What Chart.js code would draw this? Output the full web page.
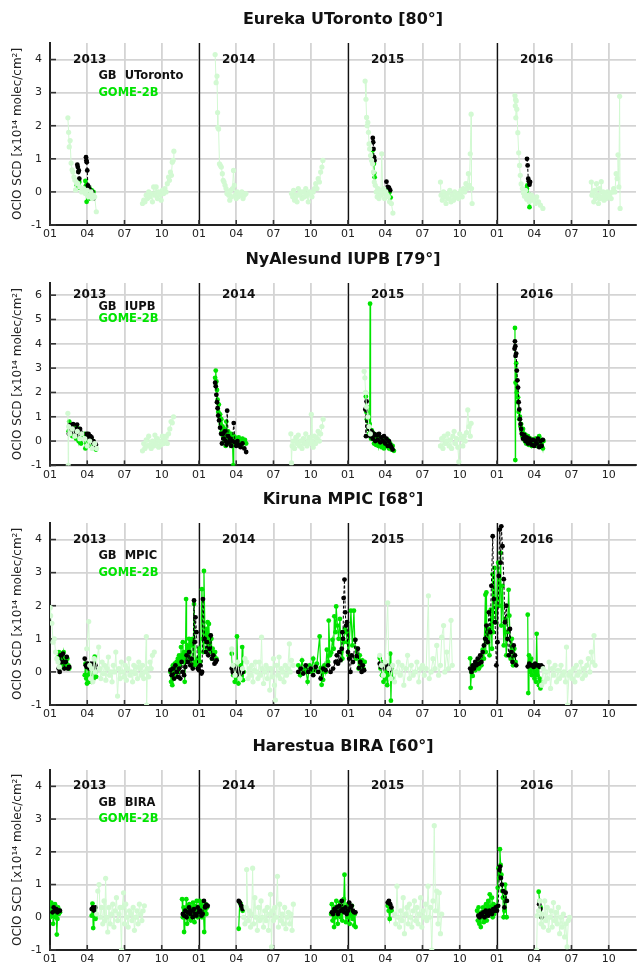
<!DOCTYPE html>
<html>
<head>
<meta charset="utf-8">
<script src="https://cdn.jsdelivr.net/npm/chart.js@4/dist/chart.umd.min.js"></script>
<style>
  body { margin: 0; background: #fff; }
  canvas { display: block; }
</style>
</head>
<body>
<canvas id="eureka" width="640" height="240"></canvas>
<canvas id="nyalesund" width="640" height="240"></canvas>
<canvas id="kiruna" width="640" height="247"></canvas>
<canvas id="harestua" width="640" height="240"></canvas>
<script>
// x values are months since 2013-01-01, y values are OClO SCD in 1e14 molec/cm2
// null splits a series into separate campaigns
const monthTicks = [0, 3, 6, 9, 12, 15, 18, 21, 24, 27, 30, 33, 36, 39, 42, 45];
const monthNames = ['01', '04', '07', '10'];
const yearStarts = [0, 12, 24, 36];
const yearNames = ['2013', '2014', '2015', '2016'];

// ---- Eureka UToronto ----
const eurekaAll = [
  [1.44,2.24],[1.5,1.8],[1.55,1.36],[1.62,1.55],[1.7,0.87],[1.78,0.67],[1.85,0.6],[1.93,0.45],[2.0,0.36],[2.06,0.06],[2.12,0.3],[2.25,0.25],[2.4,0.15],[2.55,0.0],[2.7,0.1],[2.85,-0.05],[3.0,0.05],[3.1,-0.15],[3.2,-0.1],[3.3,0.0],[3.4,-0.2],[3.5,-0.1],[3.6,-0.15],[3.73,-0.6],null,
  [7.45,-0.35],[7.55,-0.25],[7.65,-0.3],[7.75,-0.1],[7.85,-0.2],[7.95,0.0],[8.05,-0.15],[8.15,-0.05],[8.25,-0.3],[8.35,0.15],[8.45,-0.1],[8.55,0.15],[8.65,-0.2],[8.75,0.0],[8.85,-0.1],[8.95,-0.25],[9.05,0.05],[9.15,-0.05],[9.25,0.1],[9.35,0.0],[9.45,0.25],[9.55,0.45],[9.62,0.35],[9.7,0.6],[9.78,0.5],[9.85,0.9],[9.92,0.95],[9.98,1.23],null,
  [13.3,4.15],[13.38,3.3],[13.45,3.5],[13.5,2.4],[13.52,1.95],[13.58,1.9],[13.65,0.85],[13.72,0.8],[13.8,0.75],[13.88,0.55],[13.95,0.35],[14.02,0.3],[14.1,0.2],[14.18,0.1],[14.25,-0.05],[14.32,0.0],[14.4,-0.1],[14.48,-0.25],[14.55,0.05],[14.62,-0.15],[14.7,0.1],[14.78,0.65],[14.85,0.2],[14.92,-0.1],[15.0,-0.2],[15.08,0.0],[15.16,-0.15],[15.25,-0.05],[15.35,-0.1],[15.45,0.0],[15.55,-0.2],[15.65,-0.1],[15.78,-0.05],null,
  [19.45,-0.05],[19.55,-0.15],[19.62,0.05],[19.7,-0.25],[19.8,-0.1],[19.9,-0.3],[20.0,0.1],[20.1,-0.1],[20.2,0.0],[20.3,-0.2],[20.4,0.0],[20.5,-0.15],[20.6,0.1],[20.7,-0.1],[20.8,-0.3],[20.9,0.0],[21.0,-0.05],[21.1,-0.15],[21.2,0.0],[21.3,0.1],[21.4,0.25],[21.5,0.1],[21.6,0.4],[21.7,0.3],[21.8,0.6],[21.9,0.75],[21.98,0.95],null,
  [25.38,3.35],[25.45,2.8],[25.5,2.25],[25.55,2.0],[25.6,2.1],[25.65,1.8],[25.7,1.45],[25.75,1.3],[25.82,1.1],[25.9,0.95],[25.98,0.85],[26.05,0.6],[26.12,0.3],[26.2,0.2],[26.28,0.0],[26.35,-0.15],[26.42,0.1],[26.5,-0.2],[26.58,0.05],[26.65,-0.1],[26.72,1.15],[26.8,-0.05],[26.88,0.1],[26.95,-0.2],[27.05,0.0],[27.15,-0.1],[27.25,-0.15],[27.35,-0.3],[27.5,-0.35],[27.62,-0.64],null,
  [31.45,0.3],[31.5,-0.1],[31.6,-0.25],[31.7,0.0],[31.8,-0.15],[31.9,-0.35],[32.0,-0.05],[32.1,-0.2],[32.2,0.05],[32.3,-0.3],[32.4,-0.1],[32.5,-0.25],[32.6,0.0],[32.7,-0.15],[32.8,-0.05],[32.9,-0.2],[33.0,-0.1],[33.1,0.05],[33.2,-0.15],[33.3,0.1],[33.4,0.0],[33.5,0.25],[33.6,0.1],[33.7,0.55],[33.78,0.2],[33.85,1.15],[33.92,2.35],[33.95,0.1],[34.0,-0.35],null,
  [37.45,2.91],[37.5,2.79],[37.48,2.6],[37.55,2.75],[37.52,2.24],[37.6,2.5],[37.68,1.79],[37.75,1.18],[37.82,0.8],[37.88,0.5],[37.95,0.24],[38.05,0.1],[38.13,-0.03],[38.22,-0.13],[38.3,0.05],[38.4,-0.22],[38.5,-0.1],[38.6,-0.3],[38.7,-0.2],[38.8,-0.1],[38.9,-0.25],[39.0,-0.2],[39.1,-0.35],[39.2,-0.15],[39.35,-0.3],[39.5,-0.4],[39.7,-0.5],null,
  [43.6,0.3],[43.65,-0.1],[43.72,0.0],[43.8,-0.3],[43.88,0.05],[43.95,-0.2],[44.02,0.25],[44.1,-0.1],[44.18,-0.35],[44.25,0.1],[44.32,-0.2],[44.4,0.31],[44.48,-0.15],[44.55,0.0],[44.62,-0.25],[44.7,-0.1],[44.8,-0.2],[44.9,0.0],[45.0,-0.15],[45.1,-0.05],[45.2,-0.2],[45.3,0.0],[45.4,0.1],[45.5,0.0],[45.6,0.55],[45.68,0.4],[45.75,1.12],[45.82,0.15],[45.88,2.89],[45.92,-0.5]
];
const eurekaGome = [
  [2.16,0.2],[2.2,0.25],[2.25,0.12],[2.3,0.22],[2.36,0.3],null,
  [2.85,0.33],[2.9,0.2],[2.95,-0.3],[3.0,0.1],[3.05,0.15],[3.1,-0.1],[3.15,0.0],[3.2,-0.2],[3.25,0.05],[3.3,-0.15],[3.35,0.05],[3.4,-0.1],[3.45,-0.2],[3.5,0.0],null,
  [26.0,1.26],[26.03,1.05],[26.06,0.97],[26.09,0.85],[26.12,0.57],[26.15,0.44],null,
  [27.12,-0.03],[27.2,0.1],[27.28,-0.15],[27.36,0.0],[27.44,-0.17],null,
  [38.4,0.11],[38.45,0.2],[38.5,-0.22],[38.55,-0.2],[38.62,-0.46],[38.68,-0.1]
];
const eurekaGb = [
  [2.2,0.82],[2.24,0.75],[2.28,0.6],[2.32,0.65],[2.36,0.4],null,
  [2.9,1.05],[2.93,0.95],[2.96,0.9],[3.0,0.65],[3.05,0.2],[3.1,0.15],[3.15,0.1],[3.2,0.05],[3.3,-0.1],[3.4,0.0],[3.5,-0.2],null,
  [26.0,1.63],[26.03,1.5],[26.06,1.3],[26.1,1.05],[26.14,0.95],null,
  [27.1,0.31],[27.2,0.15],[27.3,0.13],[27.4,0.05],null,
  [38.42,1.0],[38.47,0.8],[38.52,0.4],[38.57,0.32],[38.62,0.22],[38.67,0.3]
];

// ---- NyAlesund IUPB ----
const nyAll = [
  [1.44,1.14],[1.47,-1.0],[1.5,0.6],[1.6,0.3],[1.8,0.5],[2.0,0.2],[2.2,0.4],[2.4,0.1],[2.55,0.3],null,
  [2.8,0.1],[3.0,-0.2],[3.2,0.0],[3.4,-0.3],[3.6,-0.1],[3.76,-0.3],null,
  [7.45,-0.4],[7.55,-0.1],[7.65,-0.3],[7.75,0.05],[7.85,-0.2],[7.95,0.2],[8.05,-0.15],[8.15,-0.3],[8.25,0.0],[8.35,-0.2],[8.45,0.25],[8.55,-0.1],[8.65,0.1],[8.75,-0.25],[8.85,0.0],[8.95,-0.15],[9.05,0.2],[9.15,-0.1],[9.25,0.05],[9.35,0.2],[9.45,-0.1],[9.55,0.3],[9.65,0.5],[9.75,0.8],[9.85,0.75],[9.95,1.0],null,
  [19.4,0.3],[19.45,-0.9],[19.5,-0.2],[19.6,0.0],[19.7,-0.3],[19.8,0.15],[19.9,-0.1],[20.0,0.25],[20.1,-0.2],[20.2,0.0],[20.3,-0.3],[20.4,0.1],[20.5,-0.1],[20.6,0.3],[20.7,-0.2],[20.8,0.0],[20.9,0.15],[21.0,-0.1],[21.05,1.1],[21.1,0.0],[21.2,-0.25],[21.3,0.2],[21.4,-0.1],[21.5,0.1],[21.6,0.4],[21.7,0.0],[21.8,0.3],[21.9,0.6],[22.0,0.9],null,
  [25.3,2.87],[25.36,2.6],[25.42,2.0],[25.5,1.4],[25.6,1.0],[25.7,0.6],[25.8,0.3],null,
  [31.45,-0.2],[31.55,0.1],[31.65,-0.3],[31.75,0.2],[31.85,-0.1],[31.95,0.0],[32.05,0.3],[32.15,-0.2],[32.25,0.05],[32.35,-0.3],[32.45,0.2],[32.55,0.4],[32.65,-0.1],[32.75,0.1],[32.85,-0.25],[32.93,-0.85],[33.0,0.3],[33.15,0.1],[33.25,-0.2],[33.35,0.2],[33.45,0.0],[33.55,0.35],[33.65,1.28],[33.75,0.6],[33.85,0.2],[33.92,0.73]
];
const nyGome = [
  [1.5,0.4],[1.55,0.8],[1.6,0.5],[1.65,0.3],[1.7,0.65],[1.75,0.4],[1.8,0.2],[1.85,0.5],[1.9,0.3],[1.95,0.6],[2.0,0.2],[2.05,0.45],[2.1,0.1],[2.15,0.35],[2.2,0.55],[2.25,0.2],[2.3,0.0],[2.35,0.3],[2.4,-0.05],[2.45,0.2],[2.5,-0.1],null,
  [2.8,0.3],[2.85,-0.3],[2.9,0.1],[2.95,-0.1],[3.0,0.2],[3.05,0.0],[3.1,0.15],[3.15,-0.15],[3.2,0.05],[3.25,-0.2],[3.3,0.1],[3.35,-0.1],[3.4,0.0],[3.45,-0.25],[3.5,-0.05],[3.55,-0.3],[3.6,-0.15],[3.7,-0.35],null,
  [13.3,2.6],[13.35,2.9],[13.4,2.45],[13.45,2.1],[13.5,1.7],[13.55,1.2],[13.6,1.5],[13.65,1.0],[13.7,1.1],[13.75,0.7],[13.8,0.9],[13.85,0.4],[13.9,0.6],[13.95,0.2],[14.0,0.5],[14.05,0.0],[14.1,0.35],[14.15,-0.2],[14.2,0.8],[14.25,0.2],[14.3,0.0],[14.35,0.4],[14.4,0.1],[14.45,-0.1],[14.5,0.2],[14.55,0.0],[14.6,0.3],[14.65,-0.2],[14.7,-0.05],[14.75,-1.0],[14.8,0.2],[14.85,0.0],[14.9,0.15],[14.95,-0.15],[15.0,0.1],[15.1,-0.1],[15.2,0.15],[15.3,0.0],[15.4,-0.2],[15.5,0.1],[15.6,-0.05],[15.7,0.05],[15.8,-0.1],null,
  [25.44,1.83],[25.48,1.2],[25.52,0.9],[25.56,1.4],[25.6,0.8],[25.65,0.5],[25.7,0.3],[25.75,0.7],[25.78,5.65],[25.82,0.4],[25.86,0.1],[25.9,0.45],[25.95,0.2],[26.0,0.35],[26.05,0.1],[26.1,-0.1],[26.15,0.2],[26.2,0.05],[26.25,-0.15],[26.3,0.25],[26.35,-0.05],[26.4,0.1],[26.45,-0.2],[26.5,0.0],[26.55,0.15],[26.6,-0.1],[26.65,0.05],[26.7,-0.25],[26.75,0.0],[26.8,-0.15],[26.85,0.1],[26.9,-0.3],[26.95,-0.1],[27.0,0.0],[27.1,-0.2],[27.2,0.05],[27.3,-0.3],[27.4,-0.1],[27.5,-0.35],[27.6,-0.2],[27.7,-0.4],null,
  [37.45,4.65],[37.48,-0.78],[37.5,2.4],[37.55,3.2],[37.6,2.0],[37.65,1.6],[37.7,1.8],[37.75,1.2],[37.8,0.9],[37.85,1.0],[37.9,0.6],[37.95,0.7],[38.0,0.4],[38.05,0.2],[38.1,0.5],[38.15,0.1],[38.2,0.3],[38.25,0.0],[38.3,0.25],[38.35,-0.1],[38.4,0.15],[38.45,0.0],[38.5,0.2],[38.55,-0.15],[38.6,0.05],[38.7,0.1],[38.8,-0.2],[38.9,0.05],[39.0,-0.1],[39.1,0.1],[39.2,-0.2],[39.3,0.0],[39.4,0.2],[39.5,-0.1],[39.6,0.05],[39.7,-0.3],[39.75,0.0]
];
const nyGb = [
  [1.52,0.3],[1.58,0.65],[1.64,0.5],[1.7,0.55],[1.78,0.4],[1.86,0.7],[1.94,0.35],[2.02,0.5],[2.1,0.25],[2.18,0.68],[2.26,0.4],[2.34,0.3],[2.42,0.5],[2.5,0.35],null,
  [2.95,0.3],[3.0,0.25],[3.05,0.2],[3.1,0.3],[3.15,0.15],[3.2,0.1],[3.25,0.2],[3.3,0.05],[3.35,0.15],[3.4,-0.05],[3.5,0.0],[3.6,-0.2],[3.7,-0.15],null,
  [13.3,2.4],[13.35,2.25],[13.4,1.9],[13.45,1.6],[13.5,1.35],[13.55,1.05],[13.62,0.85],[13.7,0.55],[13.78,0.3],[13.85,-0.1],[13.92,0.3],[14.0,0.1],[14.08,0.4],[14.15,0.0],[14.22,-0.15],[14.27,1.25],[14.35,0.2],[14.42,-0.05],[14.5,0.1],[14.6,-0.2],[14.7,0.0],[14.8,0.74],[14.9,-0.05],[15.0,-0.2],[15.1,0.0],[15.2,-0.15],[15.35,-0.25],[15.5,-0.1],[15.65,-0.3],[15.8,-0.45],null,
  [25.4,1.3],[25.45,0.2],[25.5,1.63],[25.55,1.0],[25.6,0.6],[25.7,0.5],[25.8,0.2],[25.9,0.4],[26.0,0.1],[26.1,0.3],[26.2,0.0],[26.3,0.25],[26.4,0.05],[26.5,0.3],[26.6,-0.05],[26.7,0.15],[26.8,0.0],[26.9,0.2],[27.0,-0.1],[27.1,0.1],[27.2,-0.2],[27.3,0.0],[27.4,-0.15],[27.5,-0.25],[27.6,-0.35],null,
  [37.42,3.8],[37.45,4.1],[37.48,3.9],[37.5,3.5],[37.55,3.6],[37.6,2.9],[37.65,2.5],[37.7,2.2],[37.75,1.6],[37.8,1.3],[37.85,0.9],[37.9,0.7],[37.95,0.5],[38.0,0.3],[38.1,0.1],[38.2,0.25],[38.3,0.0],[38.4,0.15],[38.5,-0.1],[38.6,0.1],[38.7,0.0],[38.8,-0.15],[38.9,0.05],[39.0,-0.2],[39.1,0.0],[39.2,-0.1],[39.3,0.1],[39.4,-0.25],[39.5,0.0],[39.6,-0.2],[39.7,0.05]
];

// ---- Kiruna MPIC ----
const kirunaAll = [
  [0.02,1.94],[0.05,1.7],[0.15,1.47],[0.25,0.9],[0.35,1.0],[0.45,0.6],[0.55,0.4],[0.65,0.3],[0.75,0.15],null,
  [2.96,0.7],[3.12,1.52],[3.2,0.2],[3.28,-0.2],[3.36,0.1],[3.45,-0.3],[3.55,0.4],[3.65,0.0],[3.92,0.75],[4.0,0.1],[4.1,-0.2],[4.2,0.3],[4.3,-0.05],[4.4,0.2],[4.5,-0.25],[4.6,0.1],[4.7,0.45],[4.8,-0.1],[4.9,0.0],[5.0,-0.3],[5.1,0.2],[5.2,0.0],[5.3,0.6],[5.44,-0.73],[5.55,0.1],[5.65,-0.2],[5.75,0.3],[5.85,0.0],[5.95,-0.15],[6.05,0.2],[6.15,-0.25],[6.25,0.1],[6.35,0.4],[6.45,-0.1],[6.55,0.0],[6.65,-0.3],[6.75,0.2],[6.85,-0.05],[6.95,0.15],[7.05,-0.2],[7.15,0.3],[7.25,0.1],[7.35,-0.1],[7.45,0.2],[7.55,-0.2],[7.65,0.0],[7.76,1.07],[7.78,-1.0],[7.85,0.1],[7.95,-0.15],[8.05,0.3],[8.15,0.1],[8.25,0.5],[8.4,0.6],null,
  [14.64,0.7],[14.75,0.2],[14.9,-0.1],[15.1,0.3],[15.3,-0.2],[15.5,0.1],[15.7,0.4],[15.85,0.3],[15.95,-0.2],[16.05,0.1],[16.15,-0.1],[16.25,0.2],[16.35,-0.3],[16.45,0.05],[16.55,0.3],[16.65,0.0],[16.75,-0.2],[16.85,0.3],[16.95,-0.1],[17.04,1.05],[17.1,0.1],[17.2,-0.35],[17.3,0.0],[17.4,0.2],[17.5,-0.2],[17.6,0.1],[17.7,-0.55],[17.8,0.1],[17.9,-0.15],[18.0,0.4],[18.08,-0.4],[18.16,-0.85],[18.25,0.2],[18.35,-0.1],[18.45,0.45],[18.55,-0.2],[18.65,0.1],[18.75,0.0],[18.85,-0.3],[18.95,0.2],[19.05,-0.1],[19.15,0.1],[19.28,0.85],[19.35,0.0],[19.45,0.35],[19.6,0.2],null,
  [26.56,0.5],[26.7,0.2],[26.85,-0.1],[27.0,0.3],[27.2,2.09],[27.3,0.1],[27.45,-0.2],[27.6,0.2],[27.75,-0.3],[27.9,0.0],[28.05,0.3],[28.2,-0.1],[28.35,0.2],[28.5,-0.4],[28.65,0.1],[28.8,0.5],[28.95,-0.2],[29.1,0.2],[29.25,-0.1],[29.4,0.0],[29.55,0.3],[29.7,-0.3],[29.85,0.1],[30.0,0.2],[30.15,-0.1],[30.3,0.1],[30.48,2.3],[30.55,-0.2],[30.7,0.0],[30.85,0.4],[31.0,0.1],[31.15,0.8],[31.3,-0.1],[31.45,0.2],[31.55,1.05],[31.7,1.4],[31.8,0.0],[31.95,0.6],[32.1,0.1],[32.3,1.56],[32.4,0.2],null,
  [39.6,-0.4],[39.72,0.1],[39.84,-0.3],[39.96,0.0],[40.08,-0.2],[40.2,0.3],[40.32,-0.5],[40.44,0.1],[40.56,-0.1],[40.68,0.2],[40.8,-0.3],[40.92,0.05],[41.04,-0.2],[41.16,0.2],[41.28,-0.1],[41.4,0.0],[41.52,-0.3],[41.6,0.75],[41.68,-1.0],[41.8,-0.1],[41.92,0.0],[42.04,-0.2],[42.16,0.1],[42.28,-0.3],[42.4,0.2],[42.52,-0.1],[42.64,0.0],[42.76,0.3],[42.88,-0.2],[43.0,0.1],[43.12,-0.1],[43.24,0.2],[43.36,0.4],[43.48,0.0],[43.6,0.6],[43.7,0.3],[43.82,1.1],[43.9,0.2]
];
const kirunaGome = [
  [0.65,0.45],[0.72,0.6],[0.8,0.3],[0.88,0.55],[0.95,0.2],[1.02,0.4],[1.1,0.6],[1.18,0.25],[1.25,0.35],[1.32,0.15],[1.4,0.4],[1.48,0.2],[1.55,0.1],null,
  [2.8,-0.1],[2.86,0.25],[2.92,-0.2],[2.98,-0.35],[3.04,-0.1],[3.1,0.1],[3.16,-0.3],[3.22,-0.15],[3.28,0.0],[3.34,-0.25],[3.4,-0.1],[3.46,0.2],[3.52,-0.2],[3.6,0.46],[3.66,0.0],[3.72,-0.15],null,
  [9.7,0.0],[9.75,-0.3],[9.8,0.1],[9.85,-0.4],[9.9,0.2],[9.95,0.0],[10.0,-0.2],[10.05,0.25],[10.1,0.05],[10.15,-0.1],[10.2,0.3],[10.25,0.1],[10.3,0.4],[10.35,0.0],[10.4,0.5],[10.45,0.2],[10.5,0.35],[10.55,0.75],[10.6,0.4],[10.65,0.5],[10.7,0.9],[10.75,0.3],[10.8,0.6],[10.85,-0.3],[10.9,0.3],[10.96,2.2],[11.0,0.5],[11.05,0.8],[11.1,0.7],[11.15,0.4],[11.2,1.0],[11.25,0.6],[11.3,0.3],[11.35,0.9],[11.45,0.8],[11.5,1.0],[11.55,0.2],[11.6,2.05],[11.7,0.3],[11.8,0.2],[11.9,0.4],[12.0,0.7],[12.1,0.3],[12.24,2.5],[12.3,1.0],[12.35,0.6],[12.4,3.05],[12.48,1.2],[12.55,0.9],[12.6,1.3],[12.65,0.7],[12.7,1.5],[12.75,1.0],[12.8,1.45],[12.85,0.8],[12.9,1.1],[12.95,0.6],[13.0,1.0],[13.05,0.4],[13.1,0.7],[13.2,0.5],[13.3,0.6],[13.4,0.4],null,
  [14.64,0.55],[14.7,0.1],[14.76,-0.1],[14.82,0.2],[14.88,-0.3],[14.94,0.0],[15.0,-0.2],[15.06,1.07],[15.12,0.1],[15.18,-0.35],[15.24,0.0],[15.3,-0.15],[15.36,0.2],[15.42,-0.1],[15.48,0.75],[15.54,-0.25],[15.6,0.0],null,
  [20.0,0.2],[20.15,-0.1],[20.3,0.35],[20.45,0.0],[20.6,0.1],[20.75,-0.3],[20.9,0.2],[21.05,0.0],[21.2,0.4],[21.35,0.05],[21.5,0.25],[21.72,1.07],[21.8,0.12],[21.88,-0.39],[21.95,0.1],[22.0,-0.24],[22.1,0.2],[22.2,0.0],[22.3,0.67],[22.4,0.3],[22.45,1.55],[22.55,0.5],[22.65,0.58],[22.75,0.97],[22.85,0.7],[22.9,1.68],[23.0,1.2],[23.05,1.98],[23.15,1.4],[23.25,1.0],[23.35,1.6],[23.45,0.6],[23.55,0.4],[23.65,0.9],[23.75,1.3],[23.85,1.2],[23.95,0.9],[24.05,0.5],[24.24,1.85],[24.35,0.8],[24.48,1.85],[24.55,0.97],[24.65,0.4],[24.75,0.7],[24.85,0.1],[24.95,0.5],[25.05,0.2],[25.15,0.35],[25.25,0.1],[25.35,0.3],null,
  [26.56,0.42],[26.62,0.1],[26.68,0.3],[26.74,-0.1],[26.8,0.2],[26.86,-0.3],[26.92,0.05],[26.98,0.25],[27.04,-0.2],[27.1,0.1],[27.16,-0.4],[27.22,0.0],[27.28,0.2],[27.34,-0.1],[27.4,0.55],[27.46,-0.87],[27.52,0.1],[27.6,-0.2],null,
  [33.84,0.41],[33.88,-0.48],[33.95,0.0],[34.05,-0.12],[34.15,0.2],[34.25,0.05],[34.35,0.18],[34.45,0.3],[34.55,0.1],[34.65,0.35],[34.75,0.2],[34.85,0.67],[34.95,0.4],[35.07,2.33],[35.1,0.6],[35.15,2.4],[35.2,0.9],[35.3,1.3],[35.4,0.5],[35.5,1.88],[35.6,0.7],[35.65,2.95],[35.7,1.2],[35.8,3.14],[35.9,1.5],[36.0,2.2],[36.1,3.3],[36.2,2.0],[36.3,3.6],[36.35,1.4],[36.45,2.6],[36.55,0.8],[36.65,1.6],[36.75,0.5],[36.85,1.2],[36.94,2.48],[37.0,1.7],[37.1,0.4],[37.2,1.0],[37.3,0.2],[37.4,0.7],[37.5,0.3],null,
  [38.48,1.73],[38.52,-0.64],[38.58,0.5],[38.64,0.3],[38.7,0.0],[38.76,0.4],[38.82,-0.1],[38.88,0.2],[38.96,0.1],[39.02,-0.2],[39.08,0.0],[39.14,-0.3],[39.2,1.15],[39.26,-0.1],[39.32,0.2],[39.38,-0.4],[39.44,-0.2],[39.5,-0.5],[39.56,-0.3]
];
const kirunaGb = [
  [0.7,0.1],[0.78,0.0],[0.85,0.5],[0.95,0.3],[1.05,0.55],[1.15,0.1],[1.25,0.3],[1.35,0.45],[1.45,0.1],[1.55,0.15],null,
  [2.8,0.4],[2.88,0.2],[2.95,0.15],[3.02,0.25],[3.1,0.2],[3.18,0.1],[3.26,0.25],[3.34,0.15],[3.42,0.2],[3.5,0.25],[3.58,0.1],[3.66,0.2],null,
  [9.7,0.05],[9.8,-0.1],[9.9,0.1],[10.0,-0.2],[10.1,0.2],[10.2,0.0],[10.3,-0.15],[10.4,0.1],[10.5,-0.2],[10.6,0.3],[10.7,0.0],[10.8,-0.1],[10.9,0.15],[11.0,0.5],[11.1,0.3],[11.2,0.6],[11.3,0.2],[11.4,0.4],[11.5,0.1],[11.6,2.16],[11.65,0.9],[11.72,1.65],[11.8,1.2],[11.9,0.1],[12.0,0.05],[12.1,0.2],[12.2,-0.05],[12.25,0.0],[12.32,2.2],[12.45,1.0],[12.55,0.6],[12.65,0.9],[12.75,0.5],[12.85,0.7],[12.95,1.1],[13.05,0.4],[13.15,0.5],[13.25,0.25],[13.35,0.3],[13.42,0.35],null,
  [14.64,0.1],[14.72,0.0],[14.8,-0.05],[14.88,0.15],[14.96,0.05],[15.04,-0.1],[15.12,0.1],[15.2,0.0],[15.28,0.05],[15.36,-0.05],[15.44,0.1],[15.52,0.0],null,
  [20.0,0.0],[20.2,0.1],[20.4,-0.05],[20.6,0.2],[20.8,0.0],[21.0,0.1],[21.2,-0.1],[21.4,0.15],[21.6,0.0],[21.8,-0.2],[22.0,0.1],[22.2,0.05],[22.4,0.2],[22.6,0.0],[22.8,0.1],[23.0,0.3],[23.1,0.5],[23.2,0.25],[23.3,0.6],[23.4,0.35],[23.5,0.7],[23.55,1.2],[23.6,1.0],[23.65,2.23],[23.72,2.79],[23.78,1.8],[23.85,1.4],[23.92,1.5],[24.0,0.6],[24.1,0.4],[24.2,0.0],[24.3,0.5],[24.4,0.3],[24.6,0.97],[24.7,0.48],[24.8,0.7],[24.9,0.12],[25.0,0.3],[25.1,0.0],[25.2,0.2],[25.3,0.05],null,
  [26.56,0.25],[26.66,0.15],[26.76,0.2],[26.86,0.1],[26.96,0.25],[27.06,0.15],[27.16,0.2],[27.26,0.1],[27.36,0.05],[27.46,0.15],null,
  [33.84,0.1],[33.95,0.0],[34.05,0.2],[34.15,0.1],[34.25,0.3],[34.35,0.2],[34.45,0.4],[34.55,0.25],[34.65,0.5],[34.75,0.3],[34.85,0.6],[34.95,0.8],[35.05,1.0],[35.15,1.4],[35.25,0.9],[35.35,1.8],[35.45,1.2],[35.55,2.6],[35.66,4.1],[35.75,2.2],[35.85,1.5],[35.95,0.2],[36.05,0.9],[36.15,2.9],[36.22,4.3],[36.3,3.3],[36.35,4.4],[36.45,3.8],[36.55,2.8],[36.65,1.5],[36.75,2.0],[36.85,1.0],[36.95,0.5],[37.05,1.3],[37.15,0.6],[37.25,0.3],[37.35,0.8],[37.45,0.5],[37.55,0.2],null,
  [38.48,0.16],[38.6,0.25],[38.72,0.2],[38.84,0.2],[38.96,0.15],[39.08,0.25],[39.2,0.2],[39.32,0.2],[39.44,0.15],[39.56,0.2],[39.68,0.15]
];

// ---- Harestua BIRA ----
const harestuaAll = [
  [3.76,0.1],[3.85,0.8],[3.95,1.0],[4.05,0.0],[4.15,0.3],[4.25,-0.2],[4.35,0.5],[4.42,-0.1],[4.48,1.19],[4.55,0.0],[4.65,-0.45],[4.75,0.3],[4.85,-0.2],[4.95,0.1],[5.05,0.4],[5.15,-0.3],[5.25,0.2],[5.35,0.6],[5.45,-0.1],[5.55,0.1],[5.65,0.3],[5.76,-1.0],[5.82,0.3],[5.92,0.75],[6.0,-0.2],[6.1,0.4],[6.2,0.0],[6.3,-0.3],[6.4,0.2],[6.5,0.1],[6.6,-0.1],[6.7,0.3],[6.8,-0.4],[6.9,0.0],[7.0,0.2],[7.1,-0.2],[7.2,0.4],[7.3,0.1],[7.4,-0.1],[7.5,0.2],[7.6,0.35],null,
  [15.6,0.0],[15.7,-0.2],[15.8,0.3],[15.84,1.46],[15.95,-0.1],[16.05,0.2],[16.15,-0.3],[16.25,0.1],[16.32,1.5],[16.4,-0.2],[16.5,0.6],[16.6,0.0],[16.7,-0.4],[16.8,0.3],[16.9,-0.1],[17.0,0.5],[17.1,0.0],[17.2,-0.3],[17.3,0.2],[17.4,-0.1],[17.5,0.3],[17.6,-0.4],[17.7,0.1],[17.76,0.7],[17.84,-0.9],[17.92,0.2],[18.0,-0.1],[18.1,0.3],[18.2,0.0],[18.32,1.25],[18.4,-0.3],[18.5,0.4],[18.6,-0.1],[18.7,0.1],[18.8,-0.2],[18.9,0.3],[19.0,-0.35],[19.1,0.0],[19.2,0.15],[19.3,-0.2],[19.4,0.1],[19.5,-0.4],[19.6,0.4],null,
  [27.76,0.1],[27.85,-0.2],[27.95,0.95],[28.05,0.0],[28.15,-0.3],[28.25,0.2],[28.35,-0.1],[28.45,0.6],[28.55,-0.5],[28.65,0.1],[28.75,0.3],[28.85,-0.2],[28.95,0.4],[29.05,0.0],[29.15,-0.3],[29.25,0.2],[29.35,0.5],[29.45,-0.1],[29.55,0.3],[29.65,-0.2],[29.75,0.1],[29.85,0.6],[29.95,-0.3],[30.05,0.2],[30.15,0.0],[30.25,0.4],[30.35,-0.1],[30.45,0.95],[30.55,0.0],[30.65,0.3],[30.75,-1.0],[30.85,0.5],[30.95,2.8],[31.05,0.2],[31.15,0.8],[31.25,-0.2],[31.35,0.75],[31.45,-0.5],[31.55,0.1],null,
  [39.2,-1.0],[39.25,0.05],[39.35,0.2],[39.45,0.5],[39.55,-0.2],[39.65,0.1],[39.75,-0.3],[39.85,0.5],[39.95,-0.1],[40.05,0.3],[40.15,-0.4],[40.25,0.0],[40.35,0.2],[40.45,-0.3],[40.55,0.45],[40.65,-0.1],[40.75,0.15],[40.85,-0.2],[40.95,0.3],[41.05,-0.5],[41.15,0.0],[41.25,-0.3],[41.35,0.1],[41.45,-0.6],[41.55,-0.2],[41.65,-0.9],[41.75,-0.1],[41.84,0.0]
];
const harestuaGome = [
  [0.0,0.0],[0.05,0.2],[0.1,0.45],[0.15,0.1],[0.2,0.35],[0.25,-0.2],[0.3,0.3],[0.35,0.15],[0.4,0.4],[0.45,0.0],[0.5,0.25],[0.55,-0.53],[0.6,-0.05],[0.65,0.3],[0.7,0.1],[0.75,0.2],[0.8,0.15],null,
  [3.36,0.05],[3.42,0.42],[3.48,-0.33],[3.54,0.1],[3.6,0.2],[3.66,-0.05],[3.72,0.0],null,
  [10.64,0.55],[10.7,0.0],[10.76,0.3],[10.8,-0.45],[10.86,0.2],[10.92,0.1],[10.98,0.55],[11.04,-0.2],[11.1,0.35],[11.16,0.0],[11.22,0.4],[11.28,0.1],[11.34,-0.1],[11.4,0.3],[11.46,0.05],[11.52,0.45],[11.58,0.2],[11.64,-0.15],[11.7,0.35],[11.76,0.1],[11.82,0.5],[11.88,0.0],[11.94,0.3],[12.0,0.1],[12.06,0.5],[12.12,0.2],[12.18,0.4],[12.24,0.0],[12.3,0.3],[12.36,0.15],[12.42,-0.45],[12.48,0.2],[12.54,0.4],[12.6,0.1],[12.66,0.3],null,
  [15.2,-0.35],[15.28,0.45],[15.36,0.4],[15.44,0.3],[15.52,0.2],null,
  [22.64,0.1],[22.7,0.4],[22.76,-0.1],[22.82,0.2],[22.88,-0.3],[22.94,0.3],[23.0,0.0],[23.06,0.5],[23.12,0.15],[23.18,-0.2],[23.24,0.3],[23.3,0.1],[23.36,0.45],[23.42,0.0],[23.48,0.35],[23.54,-0.1],[23.6,0.2],[23.66,0.55],[23.72,1.3],[23.78,0.3],[23.84,-0.15],[23.9,0.2],[23.96,0.0],[24.02,0.4],[24.08,0.1],[24.14,-0.2],[24.2,0.3],[24.26,0.05],[24.32,0.35],[24.38,-0.05],[24.44,0.15],[24.5,-0.25],[24.56,0.1],[24.62,-0.3],null,
  [27.2,0.35],[27.28,0.2],[27.36,-0.05],[27.44,0.25],[27.52,0.2],null,
  [34.4,0.2],[34.46,-0.1],[34.52,0.3],[34.58,-0.2],[34.64,0.1],[34.7,-0.3],[34.76,0.15],[34.82,0.0],[34.88,0.3],[34.94,-0.15],[35.0,0.2],[35.06,0.0],[35.12,0.4],[35.18,-0.1],[35.24,0.3],[35.3,0.5],[35.36,0.1],[35.42,0.7],[35.48,0.3],[35.54,0.2],[35.6,0.6],[35.66,0.0],[35.72,0.4],[35.78,0.1],[35.84,0.25],[35.9,0.35],[36.0,0.3],[36.06,0.9],[36.12,1.5],[36.18,1.2],[36.24,2.08],[36.3,1.6],[36.36,1.3],[36.42,0.8],[36.48,0.6],[36.54,0.0],[36.6,0.2],[36.66,1.0],[36.72,0.5],[36.78,0.0],null,
  [39.36,0.78],[39.44,0.5],[39.52,0.3],[39.6,0.0]
];
const harestuaGb = [
  [0.2,0.15],[0.3,0.3],[0.4,0.2],[0.5,0.25],[0.6,0.15],[0.7,0.2],[0.8,0.2],null,
  [3.36,0.25],[3.46,0.3],[3.56,0.2],[3.66,0.3],null,
  [10.7,0.1],[10.8,0.05],[10.9,0.2],[11.0,0.0],[11.1,0.15],[11.2,0.3],[11.3,0.1],[11.4,0.2],[11.5,0.0],[11.6,0.25],[11.7,0.1],[11.8,0.05],[11.9,0.3],[12.0,0.15],[12.1,0.2],[12.2,0.05],[12.3,0.1],[12.4,0.5],[12.5,0.3],[12.6,0.38],[12.7,0.35],null,
  [15.2,0.5],[15.3,0.45],[15.4,0.35],[15.5,0.25],null,
  [22.7,0.15],[22.8,0.1],[22.9,0.25],[23.0,0.2],[23.1,0.3],[23.2,0.1],[23.3,0.35],[23.4,0.2],[23.5,0.5],[23.6,0.25],[23.7,0.15],[23.8,0.3],[23.9,0.1],[24.0,0.2],[24.1,0.45],[24.2,0.3],[24.3,0.35],[24.4,0.2],[24.5,0.15],[24.6,0.15],null,
  [27.2,0.45],[27.3,0.5],[27.4,0.4],[27.5,0.3],null,
  [34.5,0.05],[34.6,0.0],[34.7,0.1],[34.8,0.05],[34.9,0.15],[35.0,0.0],[35.1,0.2],[35.2,0.1],[35.3,0.05],[35.4,0.2],[35.5,0.15],[35.6,0.1],[35.7,0.25],[35.8,0.2],[35.9,0.3],[36.0,0.2],[36.1,0.35],[36.2,1.45],[36.26,1.55],[36.32,1.2],[36.4,1.0],[36.5,0.8],[36.6,0.3],[36.7,0.75],[36.8,0.5],null,
  [39.4,0.4],[39.5,0.25],[39.6,0.0]
];

const PALE = 'rgb(210,249,210)';
const GREEN = 'rgb(0,228,0)';
const GRID = 'rgb(212,212,212)';
const FONT = "'DejaVu Sans', sans-serif";

// null entries become y:null points so the line breaks between campaigns
function toPoints(arr) {
  return arr.map((p, i) => p ? { x: p[0], y: p[1] } : { x: arr[i - 1][0], y: null });
}

const decor = {
  id: 'decor',
  beforeDatasetsDraw(chart, args, opts) {
    const { ctx, chartArea: a, scales: { x, y } } = chart;
    ctx.save();
    // year separators
    ctx.strokeStyle = '#111';
    ctx.lineWidth = 1.3;
    yearStarts.slice(1).forEach(m => {
      const px = Math.round(x.getPixelForValue(m)) + 0.5;
      ctx.beginPath(); ctx.moveTo(px, a.top); ctx.lineTo(px, a.bottom); ctx.stroke();
    });
    // inward tick marks
    ctx.strokeStyle = '#333';
    ctx.lineWidth = 1.6;
    x.ticks.forEach(t => {
      const px = x.getPixelForValue(t.value);
      ctx.beginPath(); ctx.moveTo(px, a.bottom); ctx.lineTo(px, a.bottom - 5); ctx.stroke();
    });
    y.ticks.forEach(t => {
      const py = y.getPixelForValue(t.value);
      ctx.beginPath(); ctx.moveTo(a.left, py); ctx.lineTo(a.left + 6, py); ctx.stroke();
    });
    ctx.restore();
  },
  afterDraw(chart, args, opts) {
    const { ctx, chartArea: a, scales: { x, y } } = chart;
    ctx.save();
    ctx.textBaseline = 'middle';
    ctx.textAlign = 'center';
    ctx.fillStyle = '#111';
    ctx.font = 'bold 16px ' + FONT;
    ctx.fillText(opts.title, (a.left + a.right) / 2, 20);

    ctx.font = 'bold 12px ' + FONT;
    yearStarts.forEach((m, i) => {
      ctx.fillText(yearNames[i], x.getPixelForValue(m + 3.2), y.getPixelForValue(opts.yearY));
    });

    ctx.textAlign = 'left';
    ctx.font = 'bold 11.5px ' + FONT;
    ctx.fillText(opts.gbName, x.getPixelForValue(3.9), y.getPixelForValue(opts.legendY[0]));
    ctx.fillStyle = GREEN;
    ctx.fillText('GOME-2B', x.getPixelForValue(3.9), y.getPixelForValue(opts.legendY[1]));
    ctx.restore();
  }
};

const panels = [
  { id: 'eureka', title: 'Eureka UToronto [80°]', gbName: 'GB  UToronto', all: eurekaAll, gb: eurekaGb, gome: eurekaGome, ymax: 4.5, yearY: 4, legendY: [3.5, 3.0], xh: 15 },
  { id: 'nyalesund', title: 'NyAlesund IUPB [79°]', gbName: 'GB  IUPB', all: nyAll, gb: nyGb, gome: nyGome, ymax: 6.5, yearY: 6, legendY: [5.5, 5.0], xh: 14 },
  { id: 'kiruna', title: 'Kiruna MPIC [68°]', gbName: 'GB  MPIC', all: kirunaAll, gb: kirunaGb, gome: kirunaGome, ymax: 4.5, yearY: 4, legendY: [3.5, 3.0], xh: 22 },
  { id: 'harestua', title: 'Harestua BIRA [60°]', gbName: 'GB  BIRA', all: harestuaAll, gb: harestuaGb, gome: harestuaGome, ymax: 4.5, yearY: 4, legendY: [3.5, 3.0], xh: 17 }
];

panels.forEach(p => {
  new Chart(document.getElementById(p.id), {
    type: 'line',
    data: {
      datasets: [
        { data: toPoints(p.all), borderColor: PALE, backgroundColor: PALE, borderWidth: 1, pointRadius: 2.6, pointBorderWidth: 0 },
        { data: toPoints(p.gb), borderColor: '#000', backgroundColor: '#000', borderWidth: 1, borderDash: [3, 2], pointRadius: 2.4, pointBorderWidth: 0 },
        { data: toPoints(p.gome), borderColor: GREEN, backgroundColor: GREEN, borderWidth: 1.2, pointRadius: 2.4, pointBorderWidth: 0 }
      ]
    },
    options: {
      responsive: false,
      animation: false,
      devicePixelRatio: 1,
      spanGaps: false,
      elements: { line: { tension: 0 } },
      layout: { padding: { top: 43, left: 0, right: 0, bottom: 0 } },
      plugins: {
        legend: { display: false },
        tooltip: { enabled: false },
        decor: { title: p.title, gbName: p.gbName, yearY: p.yearY, legendY: p.legendY }
      },
      scales: {
        x: {
          type: 'linear', min: 0, max: 47.2,
          afterBuildTicks: s => { s.ticks = monthTicks.map(v => ({ value: v })); },
          afterFit: s => { s.height = p.xh; },
          ticks: {
            autoSkip: false, maxRotation: 0, padding: 3, color: '#222',
            font: { family: FONT, size: 11 },
            callback: v => monthNames[Math.round(v / 3) % 4]
          },
          grid: { color: GRID, lineWidth: 1.8, drawTicks: false },
          border: { color: '#222', width: 2 }
        },
        y: {
          min: -1, max: p.ymax,
          afterBuildTicks: s => { s.ticks = s.ticks.filter(t => Number.isInteger(t.value)); },
          afterFit: s => { s.width = 50; },
          ticks: { stepSize: 1, padding: 8, color: '#222', font: { family: FONT, size: 11 } },
          grid: { color: GRID, lineWidth: 1.8, drawTicks: false },
          border: { color: '#222', width: 2 },
          title: {
            display: true, text: 'OClO SCD [x10¹⁴ molec/cm²]', color: '#222',
            font: { family: FONT, size: 12 }, padding: { top: 11, bottom: 0 }
          }
        }
      }
    },
    plugins: [decor]
  });
});
</script>
</body>
</html>
